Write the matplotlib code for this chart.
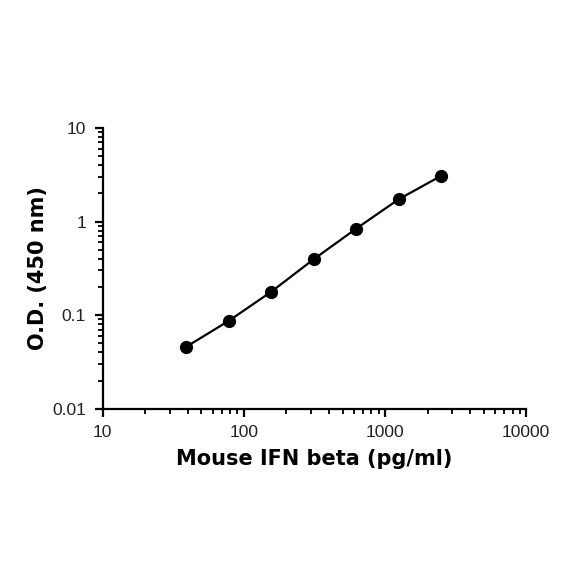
import matplotlib
matplotlib.use('Agg')
import matplotlib.pyplot as plt
from matplotlib.ticker import LogLocator, NullFormatter, FixedLocator, FixedFormatter

# standard curve, mouse IFN beta
conc = [39.06, 78.13, 156.25, 312.5, 625, 1250, 2500]
od = [0.046, 0.087, 0.178, 0.396, 0.84, 1.73, 3.08]

x_ticks = [10, 100, 1000, 10000]
x_ticklabels = ['10', '100', '1000', '10000']
y_ticks = [0.01, 0.1, 1, 10]
y_ticklabels = ['0.01', '0.1', '1', '10']

plt.rcParams['font.family'] = ['Liberation Sans', 'DejaVu Sans']

fig = plt.figure(figsize=(5.84, 5.84), dpi=100)
ax = fig.add_axes([0.176, 0.300, 0.725, 0.481])

ax.plot(conc, od, '-', color='black', lw=1.6)
ax.plot(conc, od, 'o', color='black', ms=8.5)

ax.set_xscale('log')
ax.set_yscale('log')
ax.set_xlim(10, 10000)
ax.set_ylim(0.01, 10)

ax.xaxis.set_major_locator(FixedLocator(x_ticks))
ax.xaxis.set_major_formatter(FixedFormatter(x_ticklabels))
ax.yaxis.set_major_locator(FixedLocator(y_ticks))
ax.yaxis.set_major_formatter(FixedFormatter(y_ticklabels))
ax.xaxis.set_minor_locator(LogLocator(base=10, subs=range(2, 10)))
ax.yaxis.set_minor_locator(LogLocator(base=10, subs=range(2, 10)))
ax.xaxis.set_minor_formatter(NullFormatter())
ax.yaxis.set_minor_formatter(NullFormatter())

for s in ['top', 'right']:
    ax.spines[s].set_visible(False)
for s in ['left', 'bottom']:
    ax.spines[s].set_linewidth(1.6)

ax.tick_params(which='major', direction='out', length=6, width=1.6, labelsize=12.5, pad=6, labelcolor='#222222')
ax.tick_params(which='minor', direction='out', length=3.5, width=1.3)

ax.set_xlabel('Mouse IFN beta (pg/ml)', fontsize=15, fontweight='bold', family=['DejaVu Sans'], labelpad=6)
ax.set_ylabel('O.D. (450 nm)', fontsize=15, fontweight='bold', family=['DejaVu Sans'], labelpad=3)

fig.savefig('out.png', dpi=100)
